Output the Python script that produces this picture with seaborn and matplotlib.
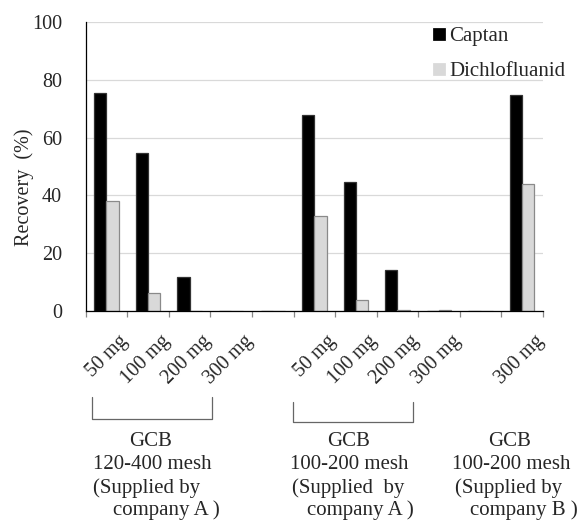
import matplotlib
matplotlib.use('Agg')
import matplotlib.pyplot as plt
import matplotlib.transforms as mtransforms
import seaborn as sns
import pandas as pd
from matplotlib.lines import Line2D

# 데이터
cat_keys = ['A50', 'A100', 'A200', 'A300', 'gap1', 'B50', 'B100', 'B200', 'B300', 'gap2', 'C300']
tick_labels = ['50 mg', '100 mg', '200 mg', '300 mg', '', '50 mg', '100 mg', '200 mg', '300 mg', '', '300 mg']
captan = [75.5, 54.8, 11.7, 0, 0, 68.0, 44.7, 14.0, 0, 0, 74.9]
dichlofluanid = [38.1, 6.0, 0, 0, 0, 32.9, 3.8, 0.3, 0.3, 0, 43.8]
series_names = ['Captan', 'Dichlofluanid']

df = pd.DataFrame({
    'cat': cat_keys * 2,
    'value': captan + dichlofluanid,
    'compound': [series_names[0]] * len(cat_keys) + [series_names[1]] * len(cat_keys),
})

sns.set_style('white')
plt.rcParams['font.family'] = ['Liberation Serif', 'DejaVu Serif']

fig = plt.figure(figsize=(5.83, 5.23), dpi=100)
ax = fig.add_axes([85.7 / 583, 1 - 310.7 / 523, 457.3 / 583, 288.4 / 523])

sns.barplot(data=df, x='cat', y='value', hue='compound', order=cat_keys,
            palette=['black', '#d9d9d9'], width=0.59, ax=ax, legend=True)
for bar, ec in zip(ax.patches, ['#333333'] * len(cat_keys) + ['#8a8a8a'] * len(cat_keys)):
    bar.set_edgecolor(ec)
    bar.set_linewidth(0.9)

ax.set_ylim(0, 100)
ax.set_xlim(-0.5, len(cat_keys) - 0.5)
ax.set_yticks([0, 20, 40, 60, 80, 100])
ax.yaxis.grid(True, color='#d9d9d9', lw=0.9)
ax.set_axisbelow(True)
ax.tick_params(axis='y', length=0, pad=17, labelsize=14.5)

ax.set_xticks(range(len(cat_keys)))
ax.set_xticklabels(tick_labels, rotation=45, ha='right', rotation_mode='anchor', fontsize=14.5)
ax.tick_params(axis='x', which='major', length=0, pad=15)
shift = mtransforms.ScaledTranslation(0.12, 0, fig.dpi_scale_trans)
for lab in ax.get_xticklabels():
    lab.set_transform(lab.get_transform() + shift)
ax.set_xticks([i - 0.5 for i in range(len(cat_keys) + 1)], minor=True)
ax.tick_params(axis='x', which='minor', length=4.3, width=0.9, color='#888888', direction='out', bottom=True)

for s in ['top', 'right']:
    ax.spines[s].set_visible(False)
ax.spines['left'].set_color('black')
ax.spines['bottom'].set_color('black')
ax.spines['left'].set_linewidth(0.9)
ax.spines['bottom'].set_linewidth(0.9)

ax.set_xlabel('')
ax.set_ylabel('Recovery  (%)', fontsize=14.5)
ax.yaxis.set_label_coords(-0.113, 0.429)

leg = ax.legend(loc='upper left', bbox_to_anchor=(0.757, 0.985), frameon=False, fontsize=15,
                handlelength=0.68, handleheight=0.68, handletextpad=0.15, labelspacing=0.75,
                borderaxespad=0, borderpad=0)
for h in leg.legend_handles:
    h.set_linewidth(0.9)

# 그룹 설명 (브래킷 + 텍스트)
def px(x, y):
    return x / 583, 1 - y / 523

for x0, x1, ytop, ybot in [(92.3, 211.7, 396.7, 419.3), (293.3, 412.7, 401.7, 421.7)]:
    pts = [px(x0, ytop), px(x0, ybot), px(x1, ybot), px(x1, ytop)]
    fig.add_artist(Line2D([p[0] for p in pts], [p[1] for p in pts],
                          color='#666666', lw=0.9, transform=fig.transFigure))

group_lines = [
    [(150.8, 'GCB', 'center'), (93.3, '120-400 mesh', 'left'), (93.3, '(Supplied by', 'left'), (113.3, 'company A )', 'left')],
    [(348.7, 'GCB', 'center'), (290, '100-200 mesh', 'left'), (291.7, '(Supplied  by', 'left'), (306.7, 'company A )', 'left')],
    [(510, 'GCB', 'center'), (451.7, '100-200 mesh', 'left'), (455, '(Supplied by', 'left'), (470, 'company B )', 'left')],
]
for lines in group_lines:
    for (x, txt, ha), y in zip(lines, [445.5, 469, 492.5, 515.5]):
        fx, fy = px(x, y)
        fig.text(fx, fy, txt, ha=ha, va='baseline', fontsize=15)

fig.savefig('out.png', dpi=100)
